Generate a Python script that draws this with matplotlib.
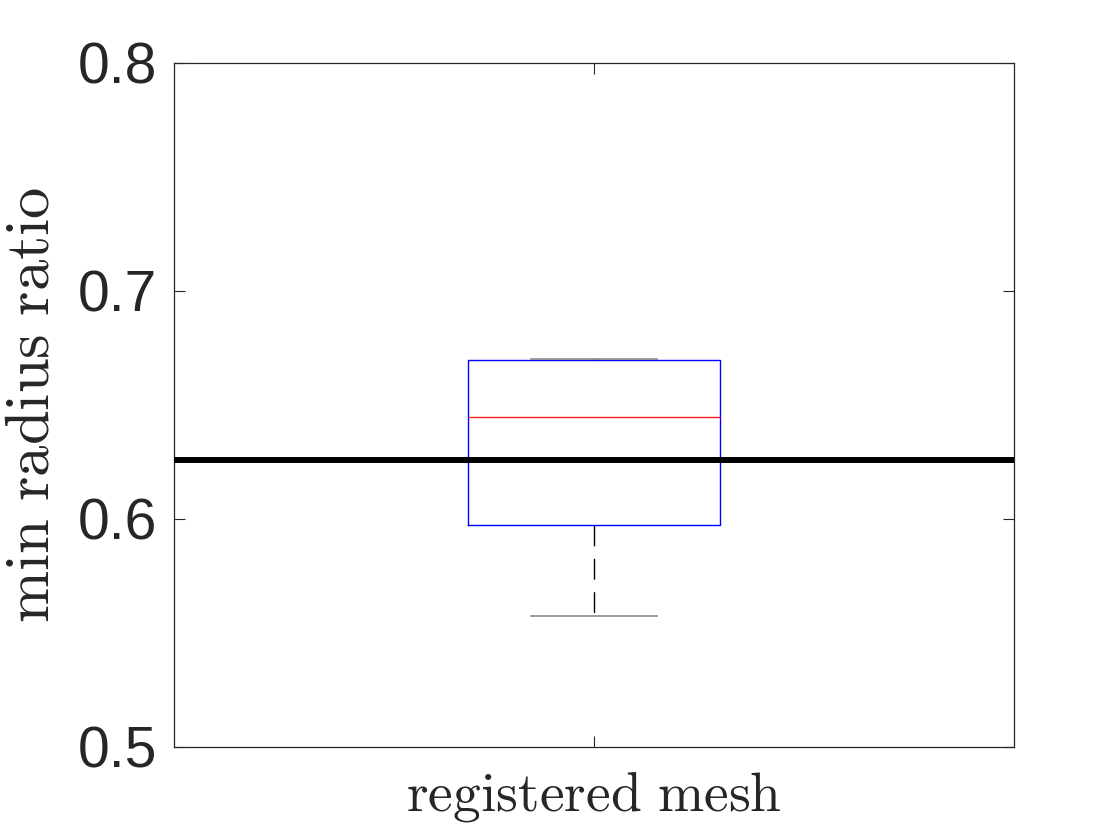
import matplotlib
matplotlib.use("Agg")
import matplotlib.pyplot as plt

# data
category = "registered mesh"
whisker_low = 0.5575
q1 = 0.5975
median = 0.6447
q3 = 0.6697
whisker_high = 0.6700
reference_level = 0.626
yticks = [0.5, 0.6, 0.7, 0.8]
ylabel = "min radius ratio"

plt.rcParams['mathtext.fontset'] = 'cm'

fig = plt.figure(figsize=(11.2, 8.4), dpi=100)
ax = fig.add_axes([174/1120, 1-747/840, 840/1120, 684/840])

stats = [dict(label=category, whislo=whisker_low, q1=q1, med=median,
              q3=q3, whishi=whisker_high, fliers=[])]
ax.bxp(stats, positions=[1], widths=0.3, showfliers=False,
       boxprops=dict(color='blue', linewidth=1.0),
       medianprops=dict(color='#ff2020', linewidth=1.0),
       whiskerprops=dict(color='black', linewidth=1.0, linestyle=(0, (15, 9))),
       capprops=dict(color='#808080', linewidth=1.1),
       capwidths=0.15)

ax.axhline(reference_level, color='black', linewidth=4.3, zorder=5)

ax.set_xlim(0.5, 1.5)
ax.set_ylim(0.5, 0.8)
ax.set_yticks(yticks)
ax.set_yticklabels([f"{v:.1f}" for v in yticks], family='Liberation Sans',
                   fontsize=41, color='#262626')
ax.set_xticks([1])
ax.set_xticklabels([r'$\mathrm{registered\ mesh}$'], fontsize=40, color='#262626')
ax.tick_params(direction='in', length=8, width=0.8, color='#262626',
               top=True, right=True)
ax.tick_params(axis='y', pad=12)
ax.tick_params(axis='x', pad=16)
for s in ax.spines.values():
    s.set_color('#262626')
    s.set_linewidth(0.9)
ax.set_ylabel(r'$\mathrm{min\ radius\ ratio}$', fontsize=45, color='#262626')
ax.yaxis.set_label_coords(-0.134, 0.5)

fig.savefig("out.png", dpi=100)
